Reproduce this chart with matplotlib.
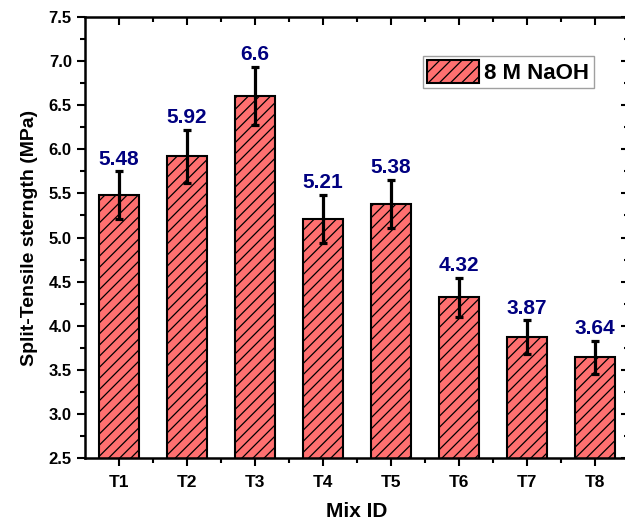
import matplotlib
matplotlib.use("Agg")
import matplotlib.pyplot as plt
from matplotlib.ticker import MultipleLocator, FixedLocator
import numpy as np

plt.rcParams['font.family'] = ['Liberation Sans', 'DejaVu Sans']
plt.rcParams['hatch.linewidth'] = 0.9

categories = ["T1", "T2", "T3", "T4", "T5", "T6", "T7", "T8"]
values = [5.48, 5.92, 6.6, 5.21, 5.38, 4.32, 3.87, 3.64]
errors = [0.27, 0.30, 0.33, 0.27, 0.27, 0.22, 0.19, 0.19]
value_labels = ["5.48", "5.92", "6.6", "5.21", "5.38", "4.32", "3.87", "3.64"]
series_name = "8 M NaOH"

fig = plt.figure(figsize=(6.25, 5.25), dpi=100)
ax = fig.add_axes([85/625, (525-458)/525, (629-85)/625, (458-17)/525])

x = np.arange(len(categories))
ax.bar(x, values, width=0.6, color='#FF7070', edgecolor='black',
       linewidth=1.5, hatch='///', label=series_name, zorder=2)
ax.errorbar(x, values, yerr=errors, fmt='none', ecolor='black', elinewidth=2.3,
            capsize=3, capthick=2.3, zorder=3)

for xi, v, e, t in zip(x, values, errors, value_labels):
    ax.annotate(t, (xi, v + e), xytext=(0, 2), textcoords='offset points',
                ha='center', va='bottom', fontsize=15, fontweight='bold', color='#000080')

ax.set_xlim(-0.5, len(categories) - 0.5)
ax.set_ylim(2.5, 7.5)
ax.set_xticks(x)
ax.set_xticklabels(categories, fontsize=12.5, fontweight='bold')
ax.xaxis.set_minor_locator(FixedLocator(x[:-1] + 0.5))
ax.yaxis.set_major_locator(MultipleLocator(0.5))
ax.yaxis.set_minor_locator(MultipleLocator(0.25))
for lab in ax.get_yticklabels():
    lab.set_fontweight('bold')
    lab.set_fontsize(12)

ax.tick_params(axis='both', which='major', direction='out', length=6, width=1.5)
ax.tick_params(axis='both', which='minor', direction='out', length=3.5, width=1.5)
ax.tick_params(axis='x', which='major', pad=6)
ax.tick_params(top=True, right=True, which='both')
for t in ax.xaxis.get_major_ticks() + ax.xaxis.get_minor_ticks():
    t.tick2line.set_marker(3)  # tick pointing down (inward) on top
for t in ax.yaxis.get_major_ticks() + ax.yaxis.get_minor_ticks():
    t.tick2line.set_marker(0)  # tick pointing left (inward) on right

for s in ax.spines.values():
    s.set_linewidth(1.8)

ax.set_xlabel("Mix ID", fontsize=15, fontweight='bold', labelpad=9)
ax.set_ylabel("Split-Tensile sterngth (MPa)", fontsize=14, fontweight='bold', labelpad=8)

leg = ax.legend(loc='upper left', bbox_to_anchor=((423-85)/544, (458-56)/441),
                prop={'weight': 'bold', 'size': 16}, frameon=True,
                fancybox=False, edgecolor='#888888', handlelength=2.3, handleheight=1.15,
                borderpad=0.2, handletextpad=0.25, borderaxespad=0)
leg.get_frame().set_linewidth(1.0)

fig.savefig("out.png", dpi=100)
